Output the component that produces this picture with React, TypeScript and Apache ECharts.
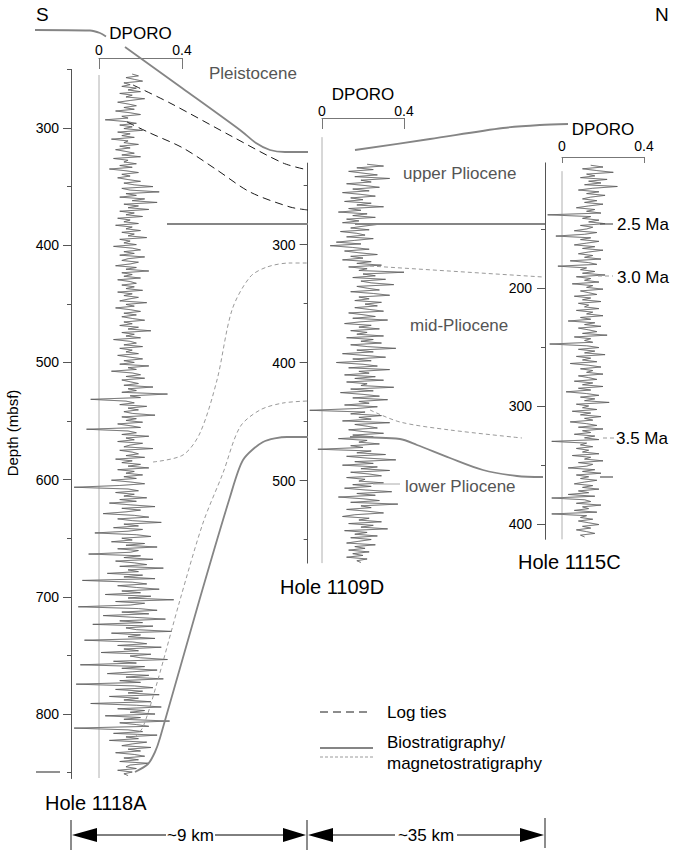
import React, { useEffect, useRef } from "react";
import * as echarts from "echarts";

const FONT = "'Liberation Sans', Arial, Helvetica, sans-serif";

// ---------- DPORO logs (sampled at regular depth steps, mbsf) ----------
const start1118A = 254;
const step1118A = 1.5;
const dporo1118A = [
  0.16, 0.19, 0.13, 0.17, 0.21, 0.12, 0.15, 0.11, 0.18, 0.14, 0.2, 0.1, 0.16, 0.13, 0.22, 0.15, 0.09, 0.14, 0.18, 0.12,
  0.17, 0.08, 0.15, 0.2, 0.11, 0.14, 0.03, 0.13, 0.18, 0.1, 0.16, 0.12, 0.21, 0.09, 0.15, 0.11, 0.17, 0.06, 0.14, 0.12,
  0.19, 0.1, 0.15, 0.08, 0.13, 0.17, 0.11, 0.2, 0.07, 0.14, 0.12, 0.18, 0.1, 0.16, 0.05, 0.13, 0.19, 0.11, 0.15, 0.09,
  0.14, 0.2, 0.12, 0.17, 0.26, 0.11, 0.15, 0.29, 0.13, 0.18, 0.1, 0.22, 0.16, 0.28, 0.12, 0.19, 0.14, 0.24, 0.1, 0.17,
  0.13, 0.21, 0.09, 0.15, 0.12, 0.19, 0.08, 0.16, 0.13, 0.2, 0.11, 0.17, 0.14, 0.23, 0.1, 0.15, 0.12, 0.18, 0.07, 0.16,
  0.2, 0.12, 0.17, 0.1, 0.22, 0.14, 0.11, 0.19, 0.15, 0.08, 0.18, 0.13, 0.24, 0.11, 0.16, 0.12, 0.2, 0.09, 0.15, 0.18,
  0.11, 0.17, 0.13, 0.21, 0.09, 0.16, 0.12, 0.19, 0.14, 0.1, 0.23, 0.13, 0.17, 0.08, 0.15, 0.2, 0.12, 0.18, 0.11, 0.16,
  0.22, 0.12, 0.16, 0.1, 0.19, 0.14, 0.25, 0.11, 0.17, 0.13, 0.2, 0.07, 0.15, 0.18, 0.12, 0.21, 0.1, 0.16, 0.13, 0.19,
  0.09, 0.15, 0.21, 0.12, 0.17, 0.1, 0.24, 0.14, 0.18, 0.06, 0.16, 0.2, 0.13, 0.22, 0.11, 0.15, 0.19, 0.12, 0.26, 0.14,
  0.18, 0.11, 0.33, 0.15, 0.2, -0.04, 0.13, 0.17, 0.1, 0.23, 0.14, 0.19, 0.12, 0.16, 0.27, 0.11, 0.18, 0.13, 0.21, 0.09,
  0.15, 0.2, -0.06, 0.14, 0.18, 0.11, 0.24, 0.13, 0.17, 0.09, 0.21, 0.15, 0.12, 0.26, 0.1, 0.16, 0.19, 0.13, 0.22, 0.08,
  0.16, 0.11, 0.2, 0.14, 0.24, 0.09, 0.17, 0.13, 0.21, 0.12, 0.18, 0.06, 0.15, 0.22, 0.1, -0.12, 0.14, 0.19, 0.08, 0.17,
  0.12, 0.23, 0.1, 0.18, 0.05, 0.15, 0.27, 0.11, 0.2, 0.13, 0.02, 0.17, 0.24, 0.09, 0.16, 0.3, 0.12, 0.19, 0.07, 0.21,
  0.14, -0.02, 0.18, 0.25, 0.11, 0.16, 0.06, 0.22, 0.13, 0.28, 0.09, 0.19, 0.15, -0.05, 0.2, 0.12, 0.26, 0.08, 0.17, 0.23,
  0.1, 0.31, 0.14, 0.19, 0.04, 0.21, 0.12, 0.27, -0.08, 0.16, 0.23, 0.09, 0.18, 0.29, 0.11, 0.2, 0.03, 0.25, 0.14, 0.36,
  0.08, 0.22, 0.15, -0.1, 0.19, 0.28, 0.11, 0.24, 0.02, 0.17, 0.32, 0.1, 0.21, -0.03, 0.26, 0.13, 0.18, 0.35, 0.06, 0.2,
  0.14, 0.27, -0.07, 0.16, 0.23, 0.09, 0.3, 0.12, 0.19, 0.01, 0.25, 0.15, 0.2, 0.33, 0.07, 0.18, -0.09, 0.22, 0.11, 0.28,
  0.16, 0.04, 0.24, 0.13, 0.31, 0.1, 0.2, -0.11, 0.17, 0.26, 0.08, 0.21, 0.14, 0.29, 0.05, 0.19, 0.12, 0.25, -0.04, 0.18,
  0.3, 0.09, 0.22, 0.15, 0.27, 0.03, 0.2, 0.12, 0.34, 0.1, 0.18, 0.24, -0.12, 0.14, 0.21, 0.07, 0.28, 0.13, 0.19, 0.05,
  0.23, 0.16, 0.11, 0.25, 0.14, 0.2, 0.08, 0.17, 0.22, 0.12, 0.19, 0.1, 0.24, 0.15, 0.13, 0.18, 0.09, 0.16, 0.12, 0.14,
];

const start1109D = 232;
const step1109D = 1.5;
const dporo1109D = [
  0.22, 0.3, 0.17, 0.25, 0.13, 0.2, 0.27, 0.16, 0.33, 0.19, 0.24, 0.12, 0.21, 0.28, 0.15, 0.23, 0.1, 0.19, 0.26, 0.14,
  0.2, 0.11, 0.24, 0.17, 0.3, 0.13, 0.19, 0.08, 0.22, 0.15, 0.26, 0.12, 0.18, 0.1, 0.27, 0.2, 0.14, 0.23, 0.09, 0.17,
  0.21, 0.12, 0.25, 0.16, 0.07, 0.19, 0.04, 0.15, 0.23, 0.11, 0.18, 0.27, 0.14, 0.2, 0.1, 0.24, 0.17, 0.29, 0.13, 0.22,
  0.18, 0.4, 0.2, 0.26, 0.15, 0.31, 0.19, 0.24, 0.35, 0.17, 0.22, 0.28, 0.14, 0.25, 0.33, 0.18, 0.23, 0.16, 0.29, 0.21,
  0.27, 0.16, 0.23, 0.3, 0.13, 0.2, 0.26, 0.15, 0.32, 0.19, 0.11, 0.24, 0.18, 0.28, 0.14, 0.22, 0.17, 0.3, 0.12, 0.25,
  0.19, 0.29, 0.14, 0.22, 0.36, 0.17, 0.25, 0.1, 0.21, 0.31, 0.15, 0.24, 0.07, 0.2, 0.27, 0.13, 0.33, 0.18, 0.23, 0.11,
  0.26, 0.16, 0.3, 0.12, 0.22, 0.19, 0.35, 0.14, 0.25, 0.09, 0.2, 0.28, 0.15, 0.32, 0.18, 0.23, 0.11, 0.27, 0.17, -0.06,
  0.21, 0.14, 0.29, 0.18, 0.24, 0.1, 0.33, 0.16, 0.22, 0.27, 0.13, 0.2, 0.3, 0.15, 0.25, 0.08, 0.22, 0.18, 0.28, 0.14,
  0.2, -0.02, 0.24, 0.17, 0.31, 0.12, 0.22, 0.36, 0.16, 0.25, 0.1, 0.27, 0.19, 0.33, 0.14, 0.23, 0.29, 0.12, 0.21, 0.18,
  0.3, 0.15, 0.24, 0.11, 0.21, 0.34, 0.17, 0.26, 0.08, 0.2, 0.28, 0.14, 0.37, 0.19, 0.24, 0.12, 0.22, 0.3, 0.16, 0.1,
  0.23, 0.18, 0.29, 0.13, 0.25, 0.19, 0.32, 0.11, 0.22, 0.16, 0.27, 0.14, 0.24, 0.18, 0.12, 0.26, 0.16, 0.21, 0.13, 0.23,
  0.15, 0.2, 0.12, 0.22, 0.17, 0.19,
];

const start1115C = 96;
const step1115C = 1.5;
const dporo1115C = [
  0.14, 0.2, 0.1, 0.17, 0.25, 0.12, 0.16, 0.09, 0.22, 0.13, 0.19, 0.11, 0.27, 0.15, 0.08, 0.18, 0.12, 0.21, 0.14, 0.1,
  0.17, 0.11, 0.2, 0.13, 0.07, 0.16, 0.12, 0.19, -0.07, 0.14, 0.1, 0.18, 0.13, 0.21, 0.09, 0.15, 0.12, 0.06, 0.17, 0.11,
  -0.03, 0.14, 0.09, 0.18, 0.12, 0.06, 0.16, 0.1, 0.2, 0.13, 0.08, 0.15, 0.11, 0.19, 0.04, 0.13, 0.17, -0.02, 0.12, 0.09,
  0.16, 0.1, 0.21, 0.07, 0.14, 0.11, 0.18, 0.05, 0.15, 0.12, 0.2, 0.09, 0.13, 0.17, 0.06, 0.14, 0.1, 0.19, 0.08, 0.13,
  0.11, 0.18, 0.07, 0.15, 0.12, 0.2, 0.09, 0.14, 0.03, 0.16, 0.11, 0.19, 0.08, 0.13, 0.17, 0.1, 0.22, 0.06, 0.14, 0.11,
  0.15, -0.06, 0.12, 0.18, 0.08, 0.16, 0.11, 0.21, 0.07, 0.14, 0.1, 0.17, 0.04, 0.13, 0.19, 0.09, 0.15, 0.12, 0.2, 0.08,
  0.13, 0.17, 0.06, 0.15, 0.1, 0.2, 0.08, 0.14, 0.02, 0.12, 0.18, 0.09, 0.16, 0.11, 0.23, 0.07, 0.13, 0.1, 0.17, 0.05,
  0.14, 0.09, 0.19, 0.11, 0.15, 0.04, 0.12, 0.17, 0.08, 0.2, 0.1, 0.14, 0.06, 0.16, 0.11, 0.18, -0.05, 0.12, 0.09, 0.15,
  0.07, 0.13, 0.1, 0.18, 0.05, 0.14, 0.11, 0.2, 0.08, 0.15, 0.12, 0.03, 0.16, 0.1, 0.19, 0.07, 0.13, 0.09, 0.17, 0.11,
  0.06, 0.15, 0.1, 0.18, 0.08, 0.13, 0.03, 0.16, -0.05, 0.11, 0.14, 0.07, 0.19, 0.1, 0.13, 0.06, 0.17, -0.05, 0.12, 0.09,
  0.15, 0.08, 0.13, 0.18, 0.1, 0.14, 0.07, 0.12, 0.16, 0.09, 0.11,
];

// ---------- depth axes ----------
const labels1118A = [300, 400, 500, 600, 700, 800];
const minor1118A = [250, 350, 450, 550, 650, 750, 850];
const labels1109D = [300, 400, 500];
const minor1109D = [250, 350, 450, 550];
const labels1115C = [200, 300, 400];
const minor1115C = [150, 250, 350];

// DPORO = 0 baselines [top depth, bottom depth]
const base1118A = [254.8, 854.6];
const base1109D = [209, 570];
const base1115C = [101, 413];

// ---------- correlation lines (figure coordinates, x right / y down) ----------
const pleistoLeft = [[35, 30], [90, 30.5], [100, 33], [106, 36.5]];
const pleistoRight = [[125, 47], [182, 88], [240, 130], [256, 143], [270, 150], [285, 152], [308, 152]];
const pleistoNorth = [[355, 150], [430, 139], [503, 128], [540, 125], [568, 124]];
const logTie1 = [[133, 85], [170, 103], [233, 137], [283, 163], [308, 170]];
const logTie2 = [[127, 122], [150, 133], [183, 148], [217, 170], [250, 192], [290, 207], [308, 210]];
const bio25a = [[167, 224], [308, 224]];
const bio25b = [[355, 224], [545, 224]];
const bio25c = [[600, 224], [613, 224]];
const mag30a = [[153, 462], [183, 455], [200, 433], [217, 380], [232, 310], [250, 277], [267, 267], [290, 263], [308, 263]];
const mag30b = [[370, 266], [543, 277]];
const mag30c = [[598, 276], [613, 276]];
const mag35a = [[135, 737], [143, 727], [157, 683], [180, 600], [203, 523], [223, 473], [240, 427], [260, 410], [283, 403], [308, 401]];
const mag35b = [[370, 410], [400, 422], [450, 430], [522, 438]];
const mag35c = [[603, 438], [615, 438]];
const bioLowLeft = [[36, 772], [60, 772]];
const bioLowA = [[135, 772], [148, 764], [155, 752], [160, 738], [200, 598], [230, 497], [243, 460], [263, 442], [287, 437], [308, 437]];
const bioLowB = [[350, 437], [400, 439], [417, 445], [450, 458], [483, 470], [517, 476], [543, 477]];
const bioLowC = [[600, 477], [613, 477]];
const leaderLow = [[373, 484], [400, 484]];

const BIO = { color: "#858585", width: 1.8 };
const MAG = { color: "#9a9a9a", width: 1, type: [4, 3] };
const TIE = { color: "#1a1a1a", width: 1, type: [8, 5] };

function logPairs(vals: number[], start: number, step: number) {
  return vals.map((v, i) => [v, start + i * step]);
}

export default function App() {
  const ref = useRef<HTMLDivElement>(null);

  useEffect(() => {
    if (!ref.current) return;
    const chart = echarts.init(ref.current, undefined, { renderer: "svg" });

    const depthAxes = (
      grid: number,
      min: number,
      max: number,
      labels: number[],
      minor: number[],
      margin: number
    ) => [
      {
        gridIndex: grid,
        type: "value",
        inverse: true,
        min,
        max,
        position: "left",
        axisLine: { show: true, onZero: false, lineStyle: { color: "#555", width: 1 } },
        axisTick: { show: true, length: 8, customValues: labels, lineStyle: { color: "#555" } },
        axisLabel: { show: true, customValues: labels, fontSize: 14, color: "#000", margin, fontFamily: FONT },
        splitLine: { show: false },
      },
      {
        gridIndex: grid,
        type: "value",
        inverse: true,
        min,
        max,
        position: "left",
        axisLine: { show: false, onZero: false },
        axisTick: { show: true, length: 4, customValues: minor, lineStyle: { color: "#555" } },
        axisLabel: { show: false },
        splitLine: { show: false },
      },
    ];

    const scaleAxis = (grid: number, tickLen: number, labelMargin: number, nameGap: number) => ({
      gridIndex: grid,
      type: "value",
      position: "top",
      min: 0,
      max: 0.4,
      interval: 0.4,
      name: "DPORO",
      nameLocation: "middle",
      nameGap,
      nameTextStyle: { fontSize: 17, color: "#000", fontFamily: FONT },
      axisLine: { show: true, onZero: false, lineStyle: { color: "#777", width: 1 } },
      axisTick: { show: true, inside: true, length: tickLen, lineStyle: { color: "#777" } },
      axisLabel: {
        show: true,
        margin: labelMargin,
        fontSize: 14,
        color: "#000",
        fontFamily: FONT,
        showMinLabel: true,
        showMaxLabel: true,
      },
      splitLine: { show: false },
    });

    const logSeries = (idx: number, data: number[][]) => [
      {
        type: "line",
        xAxisIndex: idx,
        yAxisIndex: idx * 2,
        data,
        symbol: "none",
        clip: false,
        silent: true,
        lineStyle: { color: "#ababab", width: 1 },
        z: 3,
      },
      {
        type: "line",
        xAxisIndex: idx,
        yAxisIndex: idx * 2,
        data,
        symbol: "none",
        clip: false,
        silent: true,
        lineStyle: { color: "#222", width: 0.35 },
        z: 4,
      },
    ];

    const baseSeries = (idx: number, range: number[]) => ({
      type: "line",
      xAxisIndex: idx,
      yAxisIndex: idx * 2,
      data: [[0, range[0]], [0, range[1]]],
      symbol: "none",
      clip: false,
      silent: true,
      lineStyle: { color: "#b0b0b0", width: 1 },
      z: 2,
    });

    const overlay = (data: number[][], style: any, smooth = 0.3) => ({
      type: "line",
      xAxisIndex: 6,
      yAxisIndex: 9,
      data,
      symbol: "none",
      clip: false,
      silent: true,
      smooth,
      lineStyle: style,
      z: 5,
    });

    const txt = (text: string, x: number, y: number, size: number, opts: any = {}) => ({
      type: "text",
      x,
      y,
      rotation: opts.rotation || 0,
      style: {
        text,
        fontSize: size,
        fontFamily: FONT,
        fill: opts.fill || "#000",
        align: opts.align || "left",
        verticalAlign: "middle",
      },
      z: 10,
    });
    const seg = (x1: number, y1: number, x2: number, y2: number, style: any) => ({
      type: "line",
      shape: { x1, y1, x2, y2 },
      style,
      z: 10,
    });
    const tri = (pts: number[][]) => ({
      type: "polygon",
      shape: { points: pts },
      style: { fill: "#000" },
      z: 10,
    });

    const option: any = {
      animation: false,
      backgroundColor: "#fff",
      textStyle: { fontFamily: FONT },
      grid: [
        { left: 71, top: 69.4, width: 111, height: 709.1 },
        { left: 307.65, top: 163.1, width: 96.35, height: 400 },
        { left: 545, top: 162.9, width: 99, height: 376.4 },
        { left: 99, top: 58, width: 83, height: 1 },
        { left: 322, top: 118, width: 82, height: 1 },
        { left: 562, top: 157, width: 82, height: 1 },
        { left: 0, top: 0, width: 681, height: 858 },
      ],
      xAxis: [
        { gridIndex: 0, type: "value", min: -0.135, max: 0.4, show: false },
        { gridIndex: 1, type: "value", min: -0.07, max: 0.4, show: false },
        { gridIndex: 2, type: "value", min: -0.083, max: 0.4, show: false },
        scaleAxis(3, 11, 1, 8),
        scaleAxis(4, 11, 0, 9),
        scaleAxis(5, 6, 4, 14),
        { gridIndex: 6, type: "value", min: 0, max: 681, show: false },
      ],
      yAxis: [
        ...depthAxes(0, 250, 855, labels1118A, minor1118A, 12),
        ...depthAxes(1, 231, 570, labels1109D, minor1109D, 12),
        ...depthAxes(2, 94, 413, labels1115C, minor1115C, 13),
        { gridIndex: 3, type: "value", show: false },
        { gridIndex: 4, type: "value", show: false },
        { gridIndex: 5, type: "value", show: false },
        { gridIndex: 6, type: "value", min: 0, max: 858, inverse: true, show: false },
      ],
      series: [
        baseSeries(0, base1118A),
        baseSeries(1, base1109D),
        baseSeries(2, base1115C),
        ...logSeries(0, logPairs(dporo1118A, start1118A, step1118A)),
        ...logSeries(1, logPairs(dporo1109D, start1109D, step1109D)),
        ...logSeries(2, logPairs(dporo1115C, start1115C, step1115C)),
        overlay(pleistoLeft, BIO),
        overlay(pleistoRight, BIO),
        overlay(pleistoNorth, BIO),
        overlay(logTie1, TIE),
        overlay(logTie2, TIE),
        overlay(bio25a, BIO, 0),
        overlay(bio25b, BIO, 0),
        overlay(bio25c, { color: "#555", width: 1.2 }, 0),
        overlay(mag30a, MAG),
        overlay(mag30b, MAG, 0),
        overlay(mag30c, MAG, 0),
        overlay(mag35a, MAG),
        overlay(mag35b, MAG),
        overlay(mag35c, MAG, 0),
        overlay(bioLowLeft, BIO, 0),
        overlay(bioLowA, BIO, 0.25),
        overlay(bioLowB, BIO),
        overlay(bioLowC, { color: "#555", width: 1.2 }, 0),
        overlay(leaderLow, { color: "#aaa", width: 1 }, 0),
      ],
      graphic: [
        txt("S", 36, 14, 19),
        txt("N", 655, 14, 19),
        txt("Depth (mbsf)", 12, 433, 15, { rotation: Math.PI / 2, align: "center" }),
        txt("Pleistocene", 209, 73, 17, { fill: "#555" }),
        txt("upper Pliocene", 403, 173, 17, { fill: "#555" }),
        txt("mid-Pliocene", 410, 325, 17, { fill: "#555" }),
        txt("lower Pliocene", 405, 486, 17, { fill: "#555" }),
        txt("2.5 Ma", 617, 224, 17),
        txt("3.0 Ma", 617, 277, 17),
        txt("3.5 Ma", 616, 438, 17),
        txt("Hole 1118A", 45, 803, 20),
        txt("Hole 1109D", 280, 587, 20),
        txt("Hole 1115C", 518, 562, 20),
        // legend
        seg(320, 712, 372, 712, { stroke: "#1a1a1a", lineWidth: 1, lineDash: [8, 5] }),
        txt("Log ties", 387, 712, 17),
        seg(320, 748, 373, 748, { stroke: "#858585", lineWidth: 1.8 }),
        seg(320, 757, 373, 757, { stroke: "#9a9a9a", lineWidth: 1, lineDash: [3, 2] }),
        txt("Biostratigraphy/", 387, 742, 17),
        txt("magnetostratigraphy", 387, 763, 17),
        // distance bars
        seg(71, 820, 71, 850, { stroke: "#666", lineWidth: 1.5 }),
        seg(307, 820, 307, 850, { stroke: "#666", lineWidth: 1.5 }),
        seg(545, 818, 545, 848, { stroke: "#666", lineWidth: 1.5 }),
        tri([[72, 835], [97, 828], [97, 842]]),
        seg(97, 835, 166, 835, { stroke: "#000", lineWidth: 1 }),
        txt("~9 km", 190.5, 835, 17, { align: "center" }),
        seg(215, 835, 283, 835, { stroke: "#000", lineWidth: 1 }),
        tri([[306, 835], [283, 828], [283, 842]]),
        tri([[308, 835], [333, 828], [333, 842]]),
        seg(333, 835, 395, 835, { stroke: "#000", lineWidth: 1 }),
        txt("~35 km", 426, 835, 17, { align: "center" }),
        seg(457, 835, 520, 835, { stroke: "#000", lineWidth: 1 }),
        tri([[544, 835], [520, 828], [520, 842]]),
      ],
    };

    chart.setOption(option);
    return () => chart.dispose();
  }, []);

  return (
    <div
      ref={ref}
      style={{ position: "absolute", left: 0, top: 0, width: 681, height: 858, background: "#fff" }}
    />
  );
}
